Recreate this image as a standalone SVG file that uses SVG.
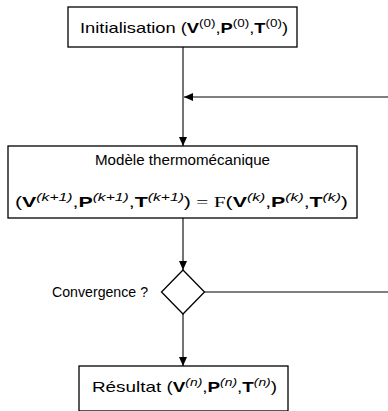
<svg xmlns="http://www.w3.org/2000/svg" width="388" height="411" viewBox="0 0 388 411">
<style>
.box{fill:#fff;stroke:#000;stroke-width:1.3}
.ln{fill:none;stroke:#000;stroke-width:1.1}
.t{font-family:"Liberation Sans","DejaVu Sans",sans-serif;font-size:15px;fill:#000}
.b{font-weight:bold}
.s{font-size:11px;font-style:italic}
.s0{font-size:11px}
.r{font-family:"Liberation Serif",serif}
</style>
<defs>
<marker id="ah" markerUnits="userSpaceOnUse" markerWidth="10" markerHeight="10" refX="9" refY="4" orient="auto">
<path d="M0,0 L9,4 L0,8 Z" fill="#000"/>
</marker>
</defs>
<g id="connectors">
<line class="ln" x1="183" y1="47" x2="183" y2="146" marker-end="url(#ah)"/>
<line class="ln" x1="388" y1="97" x2="184" y2="97" marker-end="url(#ah)"/>
<line class="ln" x1="183" y1="218" x2="183" y2="270" marker-end="url(#ah)"/>
<line class="ln" x1="204.5" y1="292" x2="388" y2="292"/>
<line class="ln" x1="183" y1="314" x2="183" y2="366" marker-end="url(#ah)"/>
</g>
<g id="init">
<rect class="box" x="68" y="7" width="229" height="40"/>
<text class="t" x="184" y="33" text-anchor="middle" textLength="208" lengthAdjust="spacingAndGlyphs">Initialisation (<tspan class="b">V</tspan><tspan class="s0" dy="-6">(0)</tspan><tspan dy="6">,</tspan><tspan class="b">P</tspan><tspan class="s0" dy="-6">(0)</tspan><tspan dy="6">,</tspan><tspan class="b">T</tspan><tspan class="s0" dy="-6">(0)</tspan><tspan dy="6">)</tspan></text>
</g>
<g id="model">
<rect class="box" x="8" y="146" width="349" height="72"/>
<text class="t" x="182.5" y="165" text-anchor="middle" textLength="175" lengthAdjust="spacingAndGlyphs">Modèle thermomécanique</text>
<text class="t" x="181.5" y="207" text-anchor="middle" textLength="333" lengthAdjust="spacingAndGlyphs">(<tspan class="b">V</tspan><tspan class="s" dy="-6">(k+1)</tspan><tspan dy="6">,</tspan><tspan class="b">P</tspan><tspan class="s" dy="-6">(k+1)</tspan><tspan dy="6">,</tspan><tspan class="b">T</tspan><tspan class="s" dy="-6">(k+1)</tspan><tspan dy="6">)</tspan><tspan class="r"> = F</tspan>(<tspan class="b">V</tspan><tspan class="s" dy="-6">(k)</tspan><tspan dy="6">,</tspan><tspan class="b">P</tspan><tspan class="s" dy="-6">(k)</tspan><tspan dy="6">,</tspan><tspan class="b">T</tspan><tspan class="s" dy="-6">(k)</tspan><tspan dy="6">)</tspan></text>
</g>
<g id="convergence">
<path class="box" d="M183,270 L204.5,292 L183,314 L161.5,292 Z"/>
<text class="t" x="148" y="297" text-anchor="end" textLength="96" lengthAdjust="spacingAndGlyphs" style="font-size:14px">Convergence ?</text>
</g>
<g id="result">
<rect class="box" x="79" y="366" width="209" height="45"/>
<text class="t" x="184.5" y="392" text-anchor="middle" textLength="185" lengthAdjust="spacingAndGlyphs">Résultat (<tspan class="b">V</tspan><tspan class="s" dy="-6">(n)</tspan><tspan dy="6">,</tspan><tspan class="b">P</tspan><tspan class="s" dy="-6">(n)</tspan><tspan dy="6">,</tspan><tspan class="b">T</tspan><tspan class="s" dy="-6">(n)</tspan><tspan dy="6">)</tspan></text>
</g>
</svg>
